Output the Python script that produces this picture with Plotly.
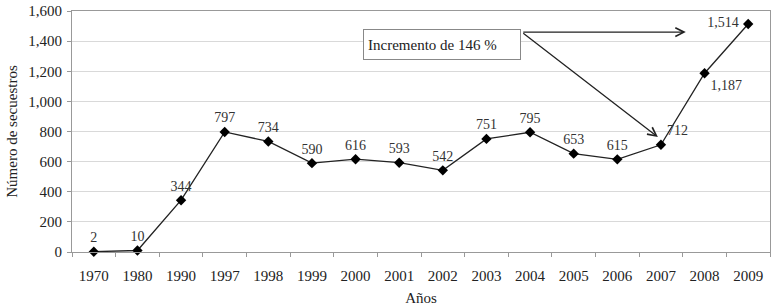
import plotly.graph_objects as go

years = ["1970", "1980", "1990", "1997", "1998", "1999", "2000", "2001", "2002",
         "2003", "2004", "2005", "2006", "2007", "2008", "2009"]
secuestros = [2, 10, 344, 797, 734, 590, 616, 593, 542, 751, 795, 653, 615, 712, 1187, 1514]
label_pos = ["top center"] * 13 + ["top right", "bottom right", "middle left"]
y_ticks = [0, 200, 400, 600, 800, 1000, 1200, 1400, 1600]
y_ticklabels = ["0", "200", "400", "600", "800", "1,000", "1,200", "1,400", "1,600"]
labels = [f"{v:,}" for v in secuestros]
labels[-1] = labels[-1] + "\u00a0"

FONT = "Liberation Serif"

fig = go.Figure()
fig.add_trace(go.Scatter(
    x=years, y=secuestros, mode="lines+markers+text",
    text=labels, textposition=label_pos,
    textfont=dict(family=FONT, size=14, color="#333333"),
    line=dict(color="#222222", width=1.3),
    marker=dict(symbol="diamond", size=8, color="#000000"),
    cliponaxis=False, showlegend=False, hoverinfo="skip",
))

# annotation box and arrows
fig.add_annotation(x=7.99, y=1377, xref="x", yref="y", text="Incremento de 146 %",
                   showarrow=False, font=dict(family=FONT, size=15, color="#222"),
                   align="left", xanchor="center", yanchor="middle",
                   bordercolor="#888", borderwidth=1, borderpad=4, bgcolor="white",
                   width=148, height=21)
fig.add_annotation(x=13.57, y=1460, ax=9.81, ay=1460, xref="x", yref="y",
                   axref="x", ayref="y", text="", showarrow=True,
                   arrowhead=5, arrowsize=1.3, arrowwidth=1.3, arrowcolor="#222")
fig.add_annotation(x=12.93, y=763, ax=9.81, ay=1460, xref="x", yref="y",
                   axref="x", ayref="y", text="", showarrow=True,
                   arrowhead=5, arrowsize=1.3, arrowwidth=1.3, arrowcolor="#222")

fig.update_layout(
    width=771, height=308,
    margin=dict(l=72, r=1, t=11, b=56, autoexpand=False),
    paper_bgcolor="white", plot_bgcolor="white",
    font=dict(family=FONT, size=14, color="#222"),
)
fig.update_xaxes(
    type="category", range=[-0.5, 15.5], tickson="boundaries",
    ticks="outside", ticklen=4, ticklabelstandoff=10,
    tickcolor="#999", showline=True, linecolor="#999", mirror=True,
    showgrid=False, automargin=False,
    tickfont=dict(family=FONT, size=15, color="#222"),
    title=dict(text="Años", font=dict(family=FONT, size=15, color="#222"), standoff=9),
)
fig.update_yaxes(
    range=[0, 1600], tickvals=y_ticks, ticktext=y_ticklabels,
    ticks="outside", ticklen=4, tickcolor="#999", ticklabelstandoff=2,
    showline=True, linecolor="#999", mirror=True,
    showgrid=True, gridcolor="#d9d9d9", zeroline=False, automargin=False,
    tickfont=dict(family=FONT, size=15, color="#222"),
    title=dict(text="Número de secuestros", font=dict(family=FONT, size=15, color="#222"), standoff=7),
)

fig.write_html("out.html", config={"displayModeBar": False},
               post_script="document.body.style.margin='0';")
